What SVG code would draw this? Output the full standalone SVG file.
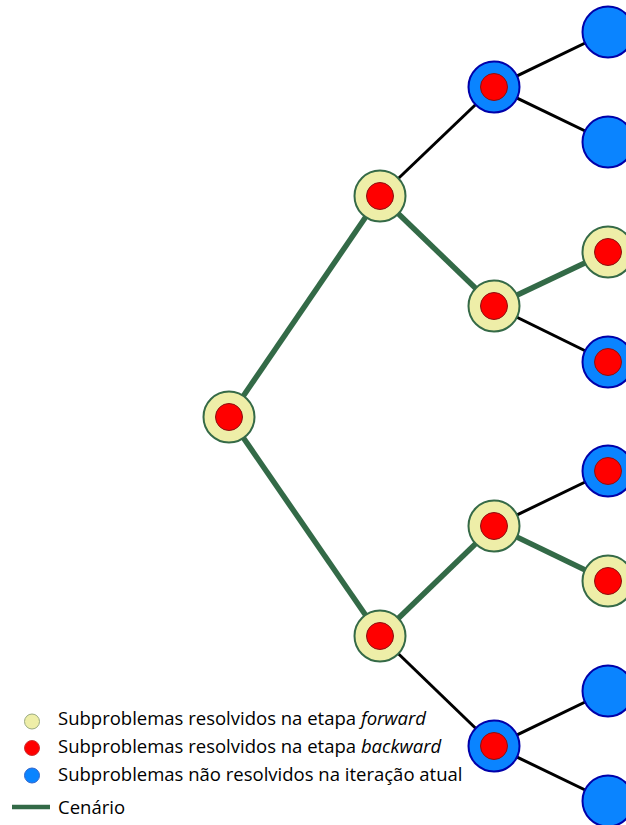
<svg xmlns="http://www.w3.org/2000/svg" width="626" height="825" viewBox="0 0 626 825">
<style>
.g{stroke:#336a47;stroke-width:5.5;fill:none;stroke-linecap:butt}
.k{stroke:#000;stroke-width:3;fill:none}
.y{fill:#eeeea8;stroke:#356a47;stroke-width:2}
.b{fill:#0a84ff;stroke:#0000aa;stroke-width:2}
.r{fill:#ff0000;stroke:#8a1010;stroke-width:1}
text{font-family:"Open Sans","Noto Sans",sans-serif;font-size:18.5px;fill:#000}
</style>
<rect width="626" height="825" fill="#fff"/>
<g id="connectors">
<line class="g" x1="229" y1="417" x2="380" y2="196"/>
<line class="g" x1="229" y1="417" x2="380" y2="636"/>
<line class="k" x1="380" y1="196" x2="494" y2="87"/>
<line class="g" x1="380" y1="196" x2="494" y2="306"/>
<line class="g" x1="380" y1="636" x2="494" y2="526"/>
<line class="k" x1="380" y1="636" x2="494" y2="746"/>
<line class="k" x1="494" y1="87" x2="608" y2="32"/>
<line class="k" x1="494" y1="87" x2="608" y2="142"/>
<line class="g" x1="494" y1="306" x2="608" y2="252"/>
<line class="k" x1="494" y1="306" x2="608" y2="362"/>
<line class="k" x1="494" y1="526" x2="608" y2="471"/>
<line class="g" x1="494" y1="526" x2="608" y2="581"/>
<line class="k" x1="494" y1="746" x2="608" y2="691"/>
<line class="k" x1="494" y1="746" x2="608" y2="801"/>
</g>
<g id="n0"><circle class="y" cx="229" cy="417" r="25.5"/><circle class="r" cx="229" cy="417" r="13.5"/></g>
<g id="n1"><circle class="y" cx="380" cy="196" r="25.5"/><circle class="r" cx="380" cy="196" r="13.5"/></g>
<g id="n2"><circle class="y" cx="380" cy="636" r="25.5"/><circle class="r" cx="380" cy="636" r="13.5"/></g>
<g id="n3"><circle class="b" cx="494" cy="87" r="25.5"/><circle class="r" cx="494" cy="87" r="13.5"/></g>
<g id="n4"><circle class="y" cx="494" cy="306" r="25.5"/><circle class="r" cx="494" cy="306" r="13.5"/></g>
<g id="n5"><circle class="y" cx="494" cy="526" r="25.5"/><circle class="r" cx="494" cy="526" r="13.5"/></g>
<g id="n6"><circle class="b" cx="494" cy="746" r="25.5"/><circle class="r" cx="494" cy="746" r="13.5"/></g>
<g id="n7"><circle class="b" cx="608" cy="32" r="25.5"/></g>
<g id="n8"><circle class="b" cx="608" cy="142" r="25.5"/></g>
<g id="n9"><circle class="y" cx="608" cy="252" r="25.5"/><circle class="r" cx="608" cy="252" r="13.5"/></g>
<g id="n10"><circle class="b" cx="608" cy="362" r="25.5"/><circle class="r" cx="608" cy="362" r="13.5"/></g>
<g id="n11"><circle class="b" cx="608" cy="471" r="25.5"/><circle class="r" cx="608" cy="471" r="13.5"/></g>
<g id="n12"><circle class="y" cx="608" cy="581" r="25.5"/><circle class="r" cx="608" cy="581" r="13.5"/></g>
<g id="n13"><circle class="b" cx="608" cy="691" r="25.5"/></g>
<g id="n14"><circle class="b" cx="608" cy="801" r="25.5"/></g>
<g id="legend">
<circle cx="32" cy="721.5" r="7.5" fill="#eeeea8" stroke="#9aaa80" stroke-width="1"/>
<circle cx="32" cy="748" r="7.5" fill="#ff0000" stroke="#cc3333" stroke-width="1"/>
<circle cx="32" cy="775.5" r="7.5" fill="#0a84ff" stroke="#3366cc" stroke-width="1"/>
<line x1="12" y1="807" x2="50" y2="807" stroke="#336a47" stroke-width="4.5"/>
<text x="58" y="725">Subproblemas resolvidos na etapa <tspan font-style="italic">forward</tspan></text>
<text x="58" y="753">Subproblemas resolvidos na etapa <tspan font-style="italic">backward</tspan></text>
<text x="58" y="781">Subproblemas não resolvidos na iteração atual</text>
<text x="58" y="814">Cenário</text>
</g>
</svg>
